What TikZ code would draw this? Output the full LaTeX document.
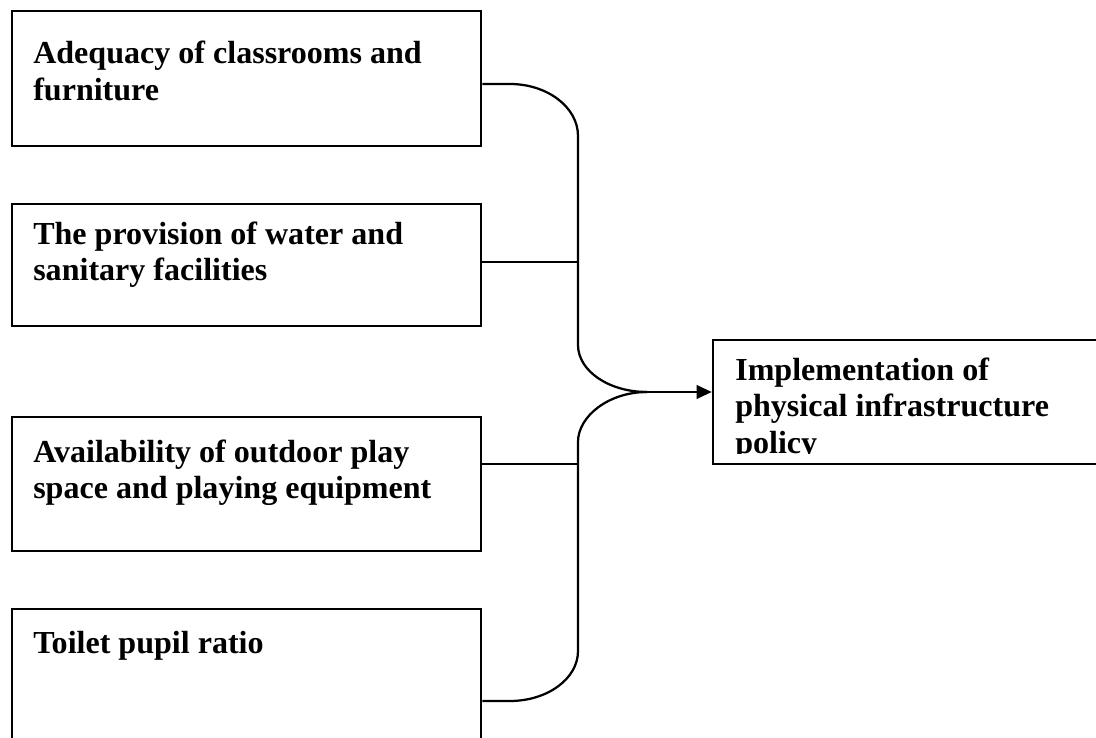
\documentclass[tikz,border=0pt]{standalone}
\usepackage{fontspec}
\setmainfont{Liberation Serif}
\usetikzlibrary{arrows.meta,calc}

\begin{document}
\begin{tikzpicture}[
    box/.style={rectangle, draw, line width=1.8pt, minimum width=11.725cm},
    txt/.style={anchor=base west, inner sep=0pt, align=left, font=\fontsize{22.8}{26}\selectfont\bfseries},
    link/.style={line width=1.6pt},
    >={Triangle[length=0.38cm, width=0.34cm]}
]
    \useasboundingbox (0,0) rectangle (27.4,18.45);
    \clip (0,0) rectangle (27.4,18.45);

    % factor boxes
    \node[box, minimum height=3.375cm] (adequacy) at (6.1625,16.4875) {};
    \node[box, minimum height=3.05cm] (provision) at (6.1625,11.825) {};
    \node[box, minimum height=3.35cm] (outdoor) at (6.1625,6.35) {};
    \node[box, minimum height=4.6cm] (toilet) at (6.1625,0.925) {};
    \node[box, minimum width=10.675cm, minimum height=3.1cm] (impl) at (23.1625,8.4) {};

    % texts (base = last line)
    \node[txt] (adequacy-t) at (0.825,15.936) {Adequacy of classrooms and\\furniture};
    \node[txt] (provision-t) at (0.825,11.436) {The provision of water and\\sanitary facilities};
    \node[txt] (outdoor-t) at (0.825,5.986) {Availability of outdoor play\\space and playing equipment};
    \node[txt] (toilet-t) at (0.825,2.1) {Toilet pupil ratio};
    \begin{scope}
        \clip (17.8,9.95) rectangle (27.4,7.1);
        \node[txt] (impl-t) at (18.375,7.122) {Implementation of\\physical infrastructure\\policy};
    \end{scope}

    \coordinate (join) at (16.175,8.65);

    \draw[link] ([yshift=-0.1375cm]adequacy.east) -- (12.75,16.35)
        .. controls (13.675,16.35) and (14.45,15.775) .. (14.45,15.05) -- (14.45,9.825)
        .. controls (14.45,9.175) and (15.225,8.65) .. (join);
    \draw[link] (join) .. controls (15.225,8.65) and (14.45,8.05) .. (14.45,7.4) -- (14.45,2.175)
        .. controls (14.45,1.475) and (13.675,0.925) .. (12.75,0.925) -- (toilet.east);
    \draw[link] ([yshift=0.075cm]provision.east) -- ++(2.425,0);
    \draw[link] ([yshift=0.5cm]outdoor.east) -- ++(2.425,0);
    \draw[link, ->] (join) -- ([yshift=0.25cm]impl.west);
\end{tikzpicture}
\end{document}
